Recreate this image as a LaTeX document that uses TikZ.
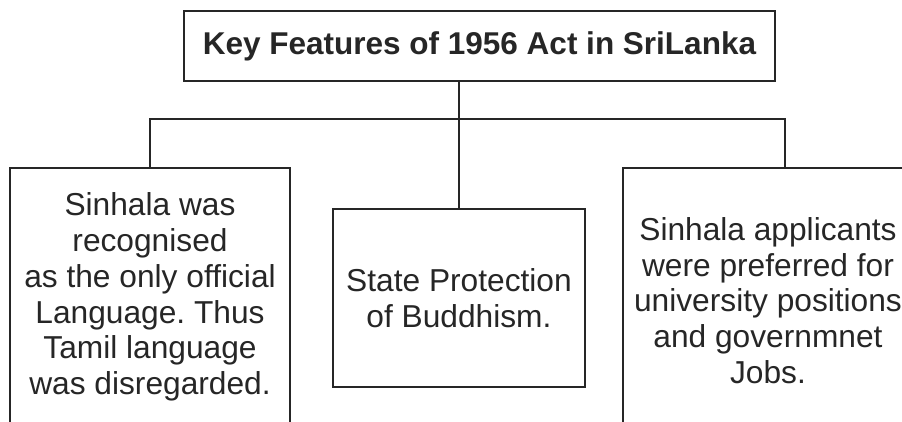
\documentclass[tikz,border=0pt]{standalone}
\usepackage{fontspec}
\setmainfont{Liberation Sans}
\usetikzlibrary{calc}
\definecolor{ink}{HTML}{262626}
\frenchspacing
\tikzset{
  titlebox/.style={draw=ink, line width=2pt, fill=white, minimum width=591pt,
    minimum height=70pt, inner sep=0pt, text=ink,
    font=\fontsize{31.5}{36}\selectfont\bfseries},
  featbox/.style={draw=ink, line width=2pt, align=center, inner sep=0pt,
    text=ink, font=\fontsize{31.7}{35.8}\selectfont},
  link/.style={draw=ink, line width=2pt},
}

\begin{document}
\begin{tikzpicture}[x=1pt, y=-1pt]
  \useasboundingbox (0,0) rectangle (902,421);
  \clip (0,0) rectangle (902,421);
  % heading
  \node[titlebox] (title) at (479.5,46) {Key Features of 1956 Act in SriLanka};
  % features
  \node[featbox, minimum width=280pt, minimum height=258pt] (lang) at (150,297)
    {Sinhala was\\recognised\\as the only official\\Language. Thus\\Tamil language\\was disregarded.};
  \node[featbox, minimum width=252pt, minimum height=178pt] (buddh) at (459,298)
    {State Protection\\of Buddhism.};
  \node[featbox, minimum width=290pt, minimum height=265pt] (jobs) at (768,300.5)
    {Sinhala applicants\\were preferred for\\university positions\\and governmnet\\Jobs.};

  \coordinate (hub) at (459,118.5);
  \coordinate (rfork) at (785,118.5);
  \draw[link] (title.south -| hub) -- (buddh.north);
  \draw[link] (lang.north) |- (rfork) -- (rfork |- jobs.north);
\end{tikzpicture}
\end{document}
